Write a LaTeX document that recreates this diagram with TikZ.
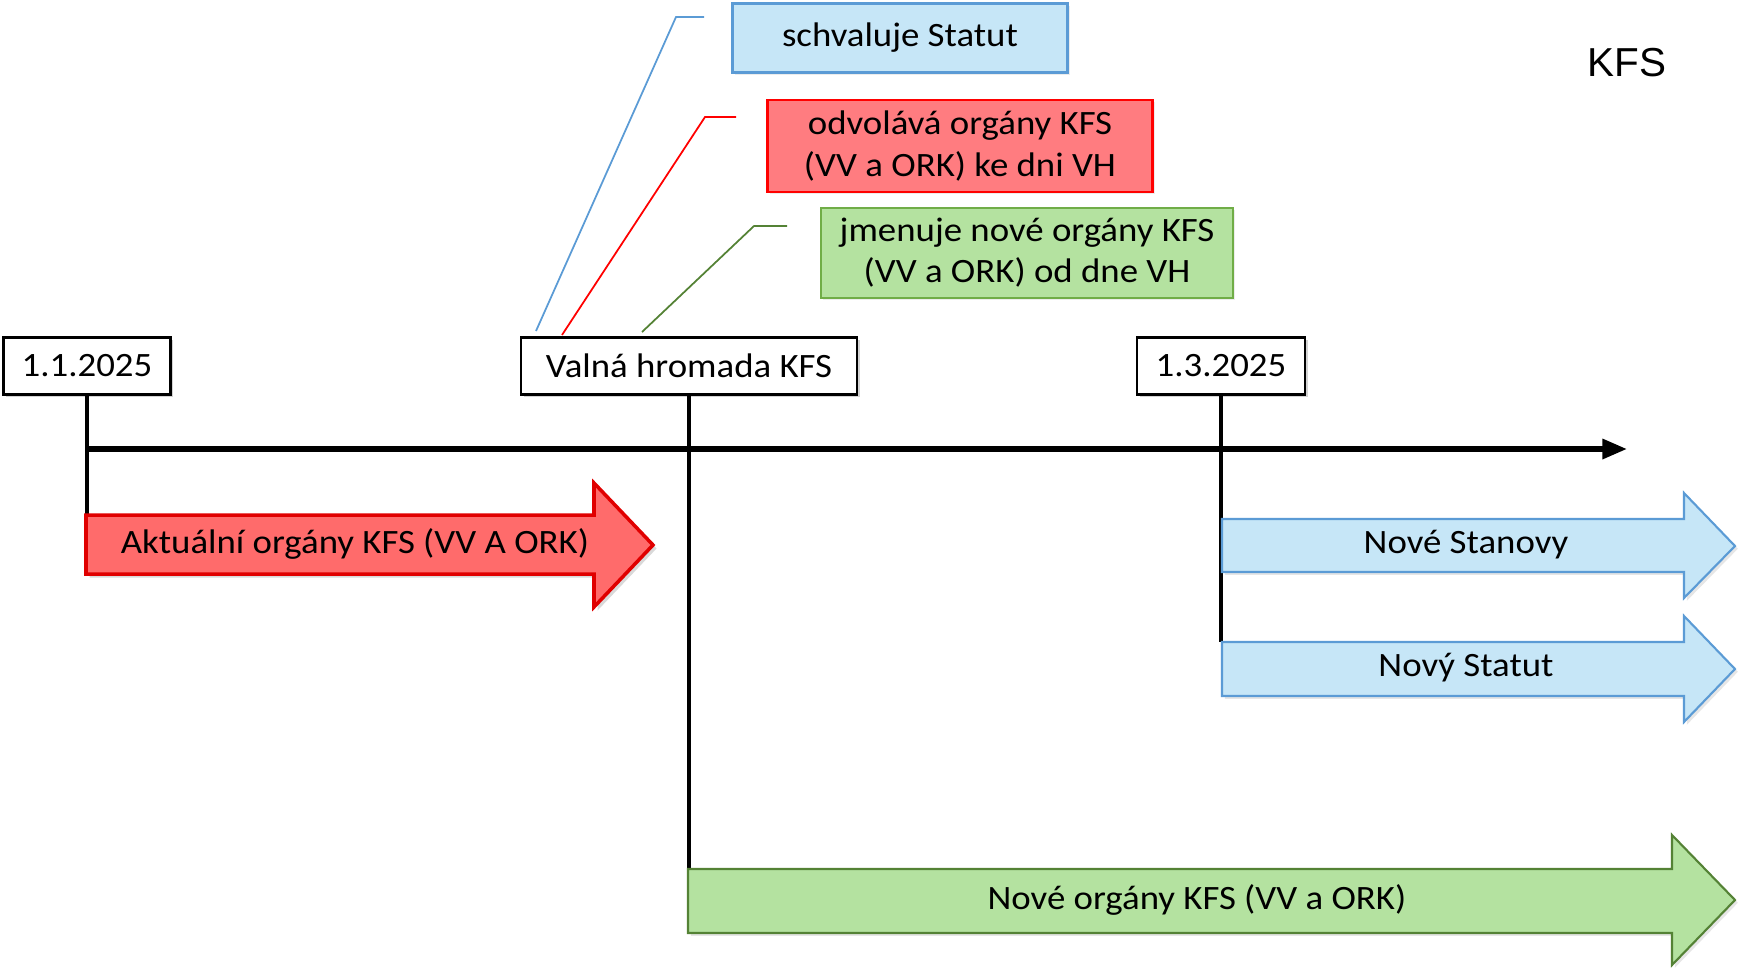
\documentclass[tikz,border=0pt]{standalone}
\usepackage{fontspec}
\setmainfont[FakeStretch=1.08]{Carlito}
\newfontfamily\arialf{Liberation Sans}
\usetikzlibrary{arrows.meta,shadows}
\definecolor{bfill}{HTML}{C6E6F7}
\definecolor{bline}{HTML}{5B9BD5}
\definecolor{rfill}{HTML}{FF7C80}
\definecolor{rline}{HTML}{FF0000}
\definecolor{rarrow}{HTML}{FF6B6B}
\definecolor{rdark}{HTML}{E00000}
\definecolor{gfill}{HTML}{B4E2A0}
\definecolor{gline}{HTML}{70AD47}
\definecolor{gdark}{HTML}{548235}
\tikzset{
  txt/.style={font=\fontsize{9.7}{11.7}\selectfont, align=center, inner sep=0pt},
  datebox/.style={draw=black, line width=0.8pt, fill=white, minimum height=57*0.01cm, inner sep=0pt,
     txt, drop shadow={shadow xshift=0.8pt, shadow yshift=-0.8pt, opacity=0.35}},
  labbox/.style={line width=0.7pt, minimum height=#1, inner sep=0pt, txt,
     drop shadow={shadow xshift=0.6pt, shadow yshift=-0.6pt, opacity=0.15}},
  vline/.style={line width=1pt, black},
  callout/.style={line width=0.5pt},
  barrow/.style={line width=0.6pt},
}
\begin{document}
\begin{tikzpicture}[x=0.01cm, y=-0.01cm]
\useasboundingbox (0,0) rectangle (1738,969);

% title
\node[font=\arialf\fontsize{11.5}{13}\selectfont, inner sep=0pt] (kfs) at (1627,63) {KFS};

% label boxes
\node[labbox=69*0.01cm, draw=bline, fill=bfill, minimum width=335*0.01cm] (schv) at (900,38) {schvaluje Statut};
\node[labbox=92*0.01cm, draw=rline, fill=rfill, minimum width=385*0.01cm] (odv) at (960,146) {odvolává orgány KFS\\(VV a ORK) ke dni VH};
\node[labbox=90*0.01cm, draw=gline, fill=gfill, minimum width=412*0.01cm] (jmen) at (1027,253) {jmenuje nové orgány KFS\\(VV a ORK) od dne VH};

% date boxes
\node[datebox, minimum width=167*0.01cm] (d1) at (87,366) {1.1.2025};
\node[datebox, minimum width=336*0.01cm] (vh) at (689,366) {Valná hromada KFS};
\node[datebox, minimum width=168*0.01cm] (d3) at (1221,366) {1.3.2025};

% callout coordinates
\coordinate (bA) at (704,17);  \coordinate (bB) at (676,17);  \coordinate (bC) at (536,331);
\coordinate (rA) at (736,117); \coordinate (rB) at (705,117); \coordinate (rC) at (562,335);
\coordinate (gA) at (787,226); \coordinate (gB) at (754,226); \coordinate (gC) at (642,332);
\draw[callout, bline] (bA) -- (bB) -- (bC);
\draw[callout, rline] (rA) -- (rB) -- (rC);
\draw[callout, gdark] (gA) -- (gB) -- (gC);

% arrow anchor coordinates
\coordinate (redtl) at (87,515);
\coordinate (greentl) at (689,869);
\coordinate (blue2tl) at (1221,642);
\coordinate (tlstart) at (87,449);
\coordinate (tlend) at (1627,449);

% vertical lines
\draw[vline] (d1.south) -- (redtl);
\draw[vline] (vh.south) -- (greentl);
\draw[vline] (d3.south) -- (blue2tl);

% timeline
\draw[line width=1.5pt, -{Triangle[length=7pt, width=5.5pt]}] (tlstart) -- (tlend);

% red arrow
\path[fill=rarrow, draw=rdark, line width=1pt, line join=miter,
  drop shadow={shadow xshift=1pt, shadow yshift=-1pt, opacity=0.3}]
  (86,515) -- (594,515) -- (594,483) -- (653,545) -- (594,607) -- (594,574) -- (86,574) -- cycle;
\node[txt] (aktual) at (355,544) {Aktuální orgány KFS (VV A ORK)};

% blue arrows
\path[fill=bfill, draw=bline, barrow, line join=miter,
  drop shadow={shadow xshift=0.8pt, shadow yshift=-0.8pt, opacity=0.2}]
  (1222,519) -- (1684,519) -- (1684,493) -- (1735,546) -- (1684,598) -- (1684,572) -- (1222,572) -- cycle;
\node[txt] (stanovy) at (1466,545) {Nové Stanovy};
\path[fill=bfill, draw=bline, barrow, line join=miter,
  drop shadow={shadow xshift=0.8pt, shadow yshift=-0.8pt, opacity=0.2}]
  (1222,642) -- (1684,642) -- (1684,616) -- (1735,669) -- (1684,722) -- (1684,696) -- (1222,696) -- cycle;
\node[txt] (statut) at (1466,668) {Nový Statut};

% green arrow
\path[fill=gfill, draw=gdark, barrow, line join=miter,
  drop shadow={shadow xshift=0.8pt, shadow yshift=-0.8pt, opacity=0.2}]
  (688,869) -- (1672,869) -- (1672,835) -- (1735,900) -- (1672,965) -- (1672,933) -- (688,933) -- cycle;
\node[txt] (nove) at (1197,900) {Nové orgány KFS (VV a ORK)};
\end{tikzpicture}
\end{document}
